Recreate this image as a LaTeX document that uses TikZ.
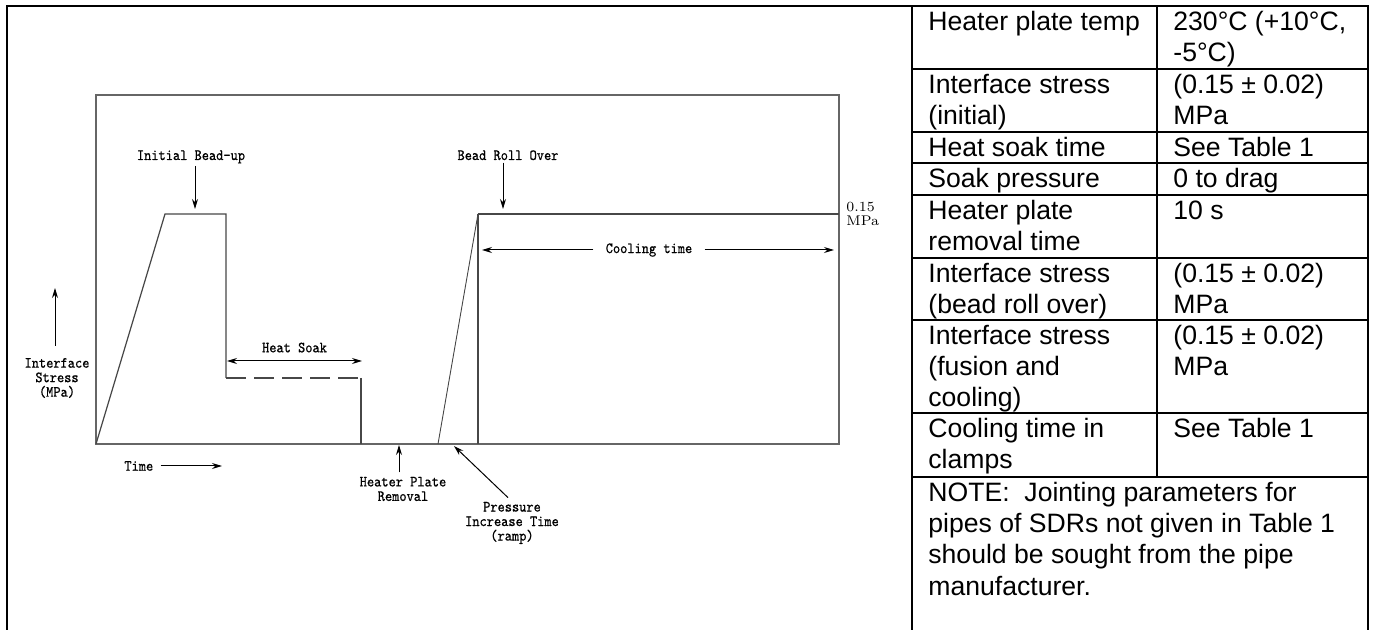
\documentclass[tikz,border=0pt]{standalone}
\usepackage{fontspec}
\newfontfamily\tabfont{Liberation Sans}
\newfontfamily\plotfont{lmmono10-regular.otf}[FakeBold=0.6,FakeStretch=0.88]
\usetikzlibrary{arrows.meta}

\tikzset{
  rule/.style={line width=1.2pt},
  plotbox/.style={draw=black!60, line width=0.8pt},
  stress/.style={draw=black!72, line width=0.6pt},
  pointer/.style={-{Stealth[length=5pt,width=3pt]}, line width=0.5pt},
  lbl/.style={font=\plotfont\fontsize{7.8}{7.25}\selectfont, inner sep=0pt, align=center},
  cell/.style={font=\tabfont\fontsize{13.3}{15.65}\selectfont, inner sep=0pt, anchor=north west, align=left},
}
\newcommand{\cellstrut}{\rule{0pt}{12pt}}

\begin{document}
\begin{tikzpicture}[x=0.5pt,y=-0.5pt]
\useasboundingbox (0,0) rectangle (1373,630);

% frame and table rules
\draw[rule] (7,630) -- (7,6) -- (1368,6) -- (1368,630);
\draw[rule] (912,6) -- (912,630);
\draw[rule] (1157,6) -- (1157,477);
\foreach \y in {69,132,163,195,258,320,413,477}
  \draw[rule] (912,\y) -- (1368,\y);

\pgfmathsetmacro{\xa}{928};
\pgfmathsetmacro{\xb}{1173};

\node[cell] (temp) at (\xa,6) {\cellstrut Heater plate temp};
\node[cell] (tempv) at (\xb,6) {\cellstrut 230°C (+10°C,\\-5°C)};
\node[cell] (init) at (\xa,69) {\cellstrut Interface stress\\(initial)};
\node[cell] (initv) at (\xb,69) {\cellstrut (0.15 ± 0.02)\\MPa};
\node[cell] (soak) at (\xa,132) {\cellstrut Heat soak time};
\node[cell] (soakv) at (\xb,132) {\cellstrut See Table 1};
\node[cell] (spres) at (\xa,163) {\cellstrut Soak pressure};
\node[cell] (spresv) at (\xb,163) {\cellstrut 0 to drag};
\node[cell] (remov) at (\xa,195) {\cellstrut Heater plate\\removal time};
\node[cell] (removv) at (\xb,195) {\cellstrut 10 s};
\node[cell] (roll) at (\xa,258) {\cellstrut Interface stress\\(bead roll over)};
\node[cell] (rollv) at (\xb,258) {\cellstrut (0.15 ± 0.02)\\MPa};
\node[cell] (fus) at (\xa,320) {\cellstrut Interface stress\\(fusion and\\cooling)};
\node[cell] (fusv) at (\xb,320) {\cellstrut (0.15 ± 0.02)\\MPa};
\node[cell] (clamp) at (\xa,413) {\cellstrut Cooling time in\\clamps};
\node[cell] (clampv) at (\xb,413) {\cellstrut See Table 1};
\node[cell] (note) at (\xa,477) {\cellstrut NOTE:\ \ Jointing parameters for\\pipes of SDRs not given in Table 1\\should be sought from the pipe\\manufacturer.};

% stress against time
\pgfmathsetmacro{\ylow}{444};
\pgfmathsetmacro{\yhigh}{214};

\draw[plotbox] (96,95) rectangle (839,\ylow);
\draw[stress] (96,\ylow) -- (165,\yhigh) -- (226,\yhigh) -- (226,378);
\draw[stress, dash pattern=on 10pt off 4pt] (226,378) -- (361,378);
\draw[stress] (361,378) -- (361,\ylow);
\draw[stress, line width=0.45pt] (438,\ylow) -- (478,\yhigh);
\draw[stress] (478,\yhigh) -- (839,\yhigh);
\draw[stress, line width=0.75pt] (478,\yhigh) -- (478,\ylow);

\node[font=\fontsize{7}{7}\selectfont, inner sep=0pt, anchor=west, align=left] (level) at (846,214) {0.15\\MPa};

\node[lbl, anchor=base] (bead) at (191,160) {Initial Bead-up};
\coordinate (beadtip) at (195,209);
\draw[pointer] ([yshift=-1pt]bead.south -| beadtip) -- (beadtip);

\node[lbl, anchor=base] (over) at (508,160) {Bead Roll Over};
\coordinate (overtip) at (503,209);
\draw[pointer] ([yshift=-1pt]over.south -| overtip) -- (overtip);

\node[lbl, inner xsep=6pt] (cool) at (649,250) {Cooling time};
\coordinate (coolL) at (482,250);
\coordinate (coolR) at (834,250);
\draw[pointer] (cool) -- (coolL);
\draw[pointer] (cool) -- (coolR);

\coordinate (soakL) at (227,361);
\coordinate (soakR) at (362,361);
\draw[pointer, {Stealth[length=5pt,width=3pt]}-{Stealth[length=5pt,width=3pt]}] (soakL) -- node[lbl, above=4pt] (heat) {Heat Soak} (soakR);

\node[lbl] (ylab) at (57,378) {Interface\\Stress\\(MPa)};
\coordinate (ytip) at (55,288);
\draw[pointer] ([yshift=6pt]ylab.north -| ytip) -- (ytip);

\node[lbl, anchor=west] (time) at (124,466) {Time};
\coordinate (timetip) at (222,466);
\draw[pointer] ([xshift=3.5pt]time.east) -- (time.east -| timetip);

\node[lbl] (hpr) at (403,489) {Heater Plate\\Removal};
\coordinate (hprtip) at (399,445);
\draw[pointer] ([yshift=2pt]hpr.north -| hprtip) -- (hprtip);

\node[lbl] (press) at (512,523) {Pressure\\Increase Time\\(ramp)};
\coordinate (presstip) at (454,446);
\draw[pointer] ([xshift=-2pt,yshift=2pt]press.north) -- (presstip);

\end{tikzpicture}
\end{document}
